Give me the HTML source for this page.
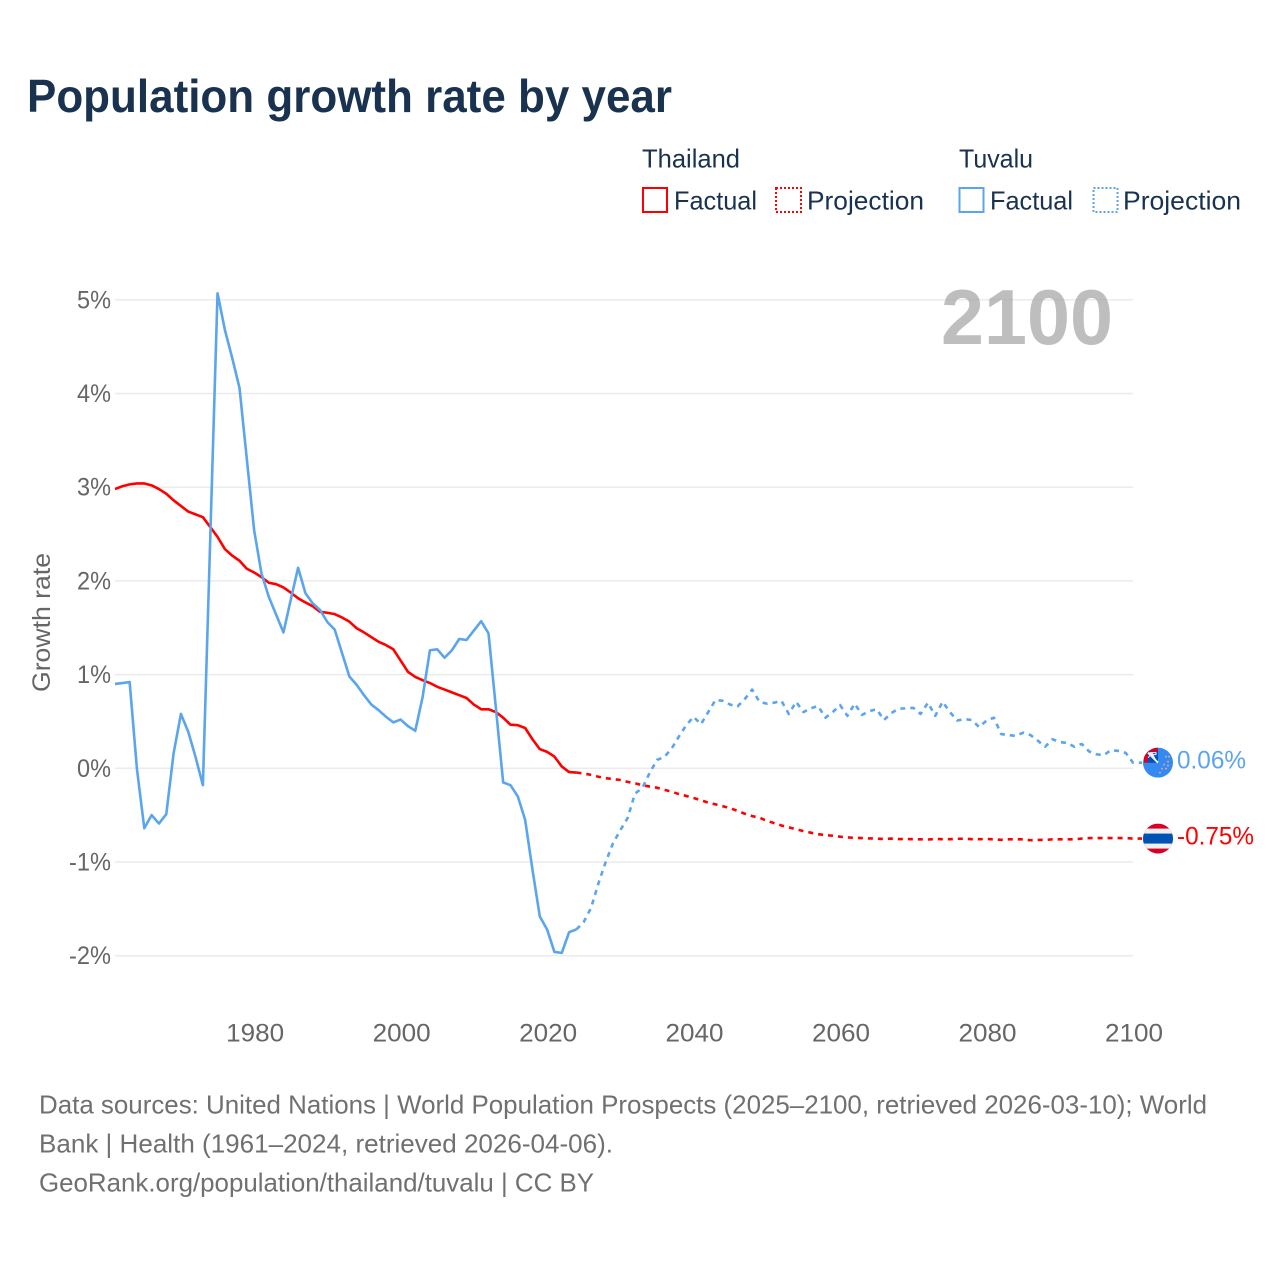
<!DOCTYPE html>
<html>
<head>
<meta charset="utf-8">
<title>Population growth rate by year</title>
<style>
html,body{margin:0;padding:0;background:#fff;width:1280px;height:1280px;overflow:hidden}
svg{display:block}
text{font-family:"Liberation Sans",sans-serif}
.legend{font-size:26px;fill:#18324f}
.foot{font-size:26px;fill:#707070}
.tick{font-size:25px;fill:#666}
</style>
</head>
<body>
<svg id="chart" width="1280" height="1280" viewBox="0 0 1280 1280" xmlns="http://www.w3.org/2000/svg">
  <text x="27" y="112" font-size="46" font-weight="bold" fill="#18324f" textLength="645" lengthAdjust="spacingAndGlyphs">Population growth rate by year</text>

  <g>
    <text class="legend" x="642" y="167.5" textLength="98" lengthAdjust="spacingAndGlyphs">Thailand</text>
    <rect x="643" y="188" width="24" height="24" fill="none" stroke="#ff0000" stroke-width="2"/>
    <text class="legend" x="674" y="209.5" textLength="83" lengthAdjust="spacingAndGlyphs">Factual</text>
    <rect x="776" y="188" width="25" height="24" fill="none" stroke="#ff0000" stroke-width="2" stroke-dasharray="2,2"/>
    <text class="legend" x="807" y="209.5" textLength="117" lengthAdjust="spacingAndGlyphs">Projection</text>
    <text class="legend" x="959" y="167.5" textLength="74" lengthAdjust="spacingAndGlyphs">Tuvalu</text>
    <rect x="959.5" y="188" width="24" height="24" fill="none" stroke="#5aa5ee" stroke-width="2"/>
    <text class="legend" x="990" y="209.5" textLength="83" lengthAdjust="spacingAndGlyphs">Factual</text>
    <rect x="1093.5" y="188" width="24" height="24" fill="none" stroke="#5aa5ee" stroke-width="2" stroke-dasharray="2,2"/>
    <text class="legend" x="1123" y="209.5" textLength="118" lengthAdjust="spacingAndGlyphs">Projection</text>
  </g>

  <g id="grid"></g>
  <g id="y-ticks"></g>
  <g id="x-ticks"></g>
  <text class="tick" x="0" y="0" transform="translate(50,692) rotate(-90)" textLength="139" lengthAdjust="spacingAndGlyphs">Growth rate</text>

  <text x="941" y="344" font-size="78" font-weight="bold" fill="#a8a8a8" fill-opacity="0.75" textLength="172" lengthAdjust="spacingAndGlyphs">2100</text>

  <g id="series"></g>

  <defs>
    <clipPath id="clip-tuvalu"><circle cx="1158" cy="0" r="15"/></clipPath>
    <clipPath id="clip-thailand"><circle cx="1158" cy="0" r="15"/></clipPath>
  </defs>
  <g id="flag-tuvalu">
    <g clip-path="url(#clip-tuvalu)">
      <rect x="1143" y="-15" width="30" height="30" fill="#338af3"/>
      <rect x="1144" y="-15" width="14" height="15" fill="#d80027"/>
      <rect x="1148" y="-11" width="10" height="11" fill="#0052b4"/>
      <path d="M1148 -10 L1158 0 M1151 -10 L1155 -3" stroke="#f0f0f0" stroke-width="2"/>
      <path d="M1148 -5 L1153 -10 M1150 -10 h6 v2 h-6z" stroke="#f0f0f0" stroke-width="1" fill="none"/>
      <g fill="#e0a090">
        <circle cx="1166" cy="-6" r="1"/><circle cx="1169" cy="-6" r="1"/>
        <circle cx="1168" cy="-1" r="1"/><circle cx="1164" cy="2" r="1"/>
        <circle cx="1168" cy="3" r="1"/><circle cx="1162" cy="6" r="1"/>
        <circle cx="1166" cy="6" r="1"/><circle cx="1160" cy="10" r="1"/>
      </g>
    </g>
  </g>
  <g id="flag-thailand">
    <g clip-path="url(#clip-thailand)">
      <rect x="1143" y="-15" width="30" height="30" fill="#d80027"/>
      <rect x="1143" y="-10" width="30" height="20" fill="#f0f0f0"/>
      <rect x="1143" y="-5" width="30" height="10" fill="#0052b4"/>
    </g>
  </g>
  <text id="label-tuvalu" x="1177" font-size="25" fill="#5aa5ee" textLength="69" lengthAdjust="spacingAndGlyphs"></text>
  <text id="label-thailand" x="1177" font-size="25" fill="#ff0000" textLength="77" lengthAdjust="spacingAndGlyphs"></text>

  <g>
    <text class="foot" x="39" y="1113.5" textLength="1168" lengthAdjust="spacingAndGlyphs">Data sources: United Nations | World Population Prospects (2025–2100, retrieved 2026-03-10); World</text>
    <text class="foot" x="39" y="1152.5" textLength="574" lengthAdjust="spacingAndGlyphs">Bank | Health (1961–2024, retrieved 2026-04-06).</text>
    <text class="foot" x="39" y="1191.5" textLength="555" lengthAdjust="spacingAndGlyphs">GeoRank.org/population/thailand/tuvalu | CC BY</text>
  </g>
</svg>
<script>
const years = [
  1961,1962,1963,1964,1965,1966,1967,1968,1969,1970,
  1971,1972,1973,1974,1975,1976,1977,1978,1979,1980,
  1981,1982,1983,1984,1985,1986,1987,1988,1989,1990,
  1991,1992,1993,1994,1995,1996,1997,1998,1999,2000,
  2001,2002,2003,2004,2005,2006,2007,2008,2009,2010,
  2011,2012,2013,2014,2015,2016,2017,2018,2019,2020,
  2021,2022,2023,2024,2025,2026,2027,2028,2029,2030,
  2031,2032,2033,2034,2035,2036,2037,2038,2039,2040,
  2041,2042,2043,2044,2045,2046,2047,2048,2049,2050,
  2051,2052,2053,2054,2055,2056,2057,2058,2059,2060,
  2061,2062,2063,2064,2065,2066,2067,2068,2069,2070,
  2071,2072,2073,2074,2075,2076,2077,2078,2079,2080,
  2081,2082,2083,2084,2085,2086,2087,2088,2089,2090,
  2091,2092,2093,2094,2095,2096,2097,2098,2099,2100
];
const thailandValues = [
  2.98,3.01,3.03,3.04,3.04,3.02,2.98,2.93,2.86,2.80,
  2.74,2.71,2.68,2.575,2.47,2.34,2.27,2.215,2.13,2.09,
  2.04,1.98,1.965,1.93,1.875,1.815,1.77,1.73,1.67,1.66,
  1.645,1.61,1.565,1.495,1.45,1.40,1.35,1.315,1.27,1.15,
  1.03,0.975,0.94,0.91,0.87,0.84,0.81,0.78,0.75,0.68,
  0.63,0.63,0.60,0.54,0.465,0.46,0.43,0.31,0.205,0.175,
  0.125,0.02,-0.04,-0.045,-0.055,-0.07,-0.09,-0.105,-0.115,-0.125,
  -0.145,-0.16,-0.18,-0.195,-0.207,-0.23,-0.25,-0.275,-0.295,-0.317,
  -0.34,-0.367,-0.385,-0.405,-0.425,-0.455,-0.485,-0.51,-0.527,-0.56,
  -0.585,-0.61,-0.63,-0.65,-0.67,-0.687,-0.703,-0.713,-0.72,-0.73,
  -0.738,-0.742,-0.745,-0.748,-0.75,-0.755,-0.75,-0.755,-0.755,-0.757,
  -0.758,-0.76,-0.755,-0.757,-0.757,-0.752,-0.752,-0.757,-0.757,-0.755,
  -0.758,-0.763,-0.758,-0.758,-0.758,-0.768,-0.765,-0.765,-0.758,-0.758,
  -0.758,-0.758,-0.75,-0.745,-0.745,-0.745,-0.745,-0.745,-0.745,-0.75
];
const tuvaluValues = [
  0.90,0.91,0.92,-0.01,-0.64,-0.50,-0.59,-0.49,0.16,0.58,
  0.39,0.12,-0.18,2.44,5.07,4.68,4.38,4.06,3.30,2.54,
  2.08,1.83,1.64,1.45,1.80,2.14,1.87,1.76,1.69,1.56,
  1.48,1.23,0.98,0.89,0.78,0.68,0.62,0.55,0.49,0.52,
  0.45,0.40,0.76,1.26,1.27,1.18,1.26,1.38,1.37,1.47,
  1.57,1.44,0.65,-0.15,-0.18,-0.30,-0.55,-1.08,-1.58,-1.72,
  -1.96,-1.97,-1.75,-1.72,-1.64,-1.49,-1.23,-1.00,-0.80,-0.66,
  -0.53,-0.27,-0.21,-0.05,0.09,0.12,0.21,0.34,0.46,0.55,
  0.47,0.60,0.73,0.72,0.68,0.66,0.74,0.84,0.71,0.69,
  0.70,0.72,0.58,0.71,0.60,0.64,0.665,0.54,0.60,0.675,
  0.56,0.69,0.57,0.61,0.63,0.515,0.59,0.636,0.64,0.645,
  0.58,0.70,0.56,0.71,0.60,0.51,0.525,0.515,0.44,0.51,
  0.54,0.365,0.355,0.345,0.38,0.355,0.295,0.23,0.31,0.28,
  0.27,0.23,0.26,0.18,0.15,0.14,0.195,0.185,0.165,0.06
];
const lastFactualYear = 2024;
const yTickValues = [5,4,3,2,1,0,-1,-2];
const xTickValues = [1980,2000,2020,2040,2060,2080,2100];
const thailandEndLabel = "-0.75%";
const tuvaluEndLabel = "0.06%";

const NS = "http://www.w3.org/2000/svg";
const X0 = 115, X1 = 1133, Y_ZERO = 768.3, Y_UNIT = 93.7, FLAG_X = 1158;
const xScale = function (year) { return X0 + (year - years[0]) * (X1 - X0) / (years[years.length - 1] - years[0]); };
const yScale = function (value) { return Y_ZERO - value * Y_UNIT; };

function make(tag, parent) {
  const el = document.createElementNS(NS, tag);
  parent.appendChild(el);
  return el;
}
function pathFrom(values, from, to) {
  const pts = [];
  years.forEach(function (yr, i) {
    if (yr >= from && yr <= to) pts.push(xScale(yr).toFixed(2) + "," + yScale(values[i]).toFixed(2));
  });
  return "M" + pts.join(" L");
}

const gridGroup = document.getElementById("grid");
const yTickGroup = document.getElementById("y-ticks");
const xTickGroup = document.getElementById("x-ticks");
const seriesGroup = document.getElementById("series");

yTickValues.forEach(function (v) {
  const line = make("line", gridGroup);
  
  
  line.setAttribute("x1", X0);
  line.setAttribute("x2", X1);
  line.setAttribute("y1", yScale(v));
  line.setAttribute("y2", yScale(v));
  line.setAttribute("stroke", "#ebebeb");
  line.setAttribute("stroke-width", "1.5");

  const label = make("text", yTickGroup);
  
  
  label.setAttribute("class", "tick");
  label.setAttribute("x", v < 0 ? 69 : 77);
  label.setAttribute("y", yScale(v) + 8.5);
  label.setAttribute("textLength", v < 0 ? 42 : 34);
  label.setAttribute("lengthAdjust", "spacingAndGlyphs");
  label.textContent = v + "%";
});

xTickValues.forEach(function (yr) {
  const label = make("text", xTickGroup);
  
  
  label.setAttribute("class", "tick");
  label.setAttribute("x", xScale(yr) - 28);
  label.setAttribute("y", 1041.5);
  label.setAttribute("textLength", 58);
  label.setAttribute("lengthAdjust", "spacingAndGlyphs");
  label.textContent = yr;
});

function drawSeries(values, color, key) {
  const factual = make("path", seriesGroup);
  
  
  factual.setAttribute("d", pathFrom(values, years[0], lastFactualYear));
  factual.setAttribute("fill", "none");
  factual.setAttribute("stroke", color);
  factual.setAttribute("stroke-width", "2.6");
  factual.setAttribute("stroke-linejoin", "round");

  const endY = yScale(values[values.length - 1]);
  const projection = make("path", seriesGroup);
  
  
  projection.setAttribute("d", pathFrom(values, lastFactualYear, years[years.length - 1]) + " L" + (FLAG_X - 16) + "," + endY.toFixed(2));
  projection.setAttribute("fill", "none");
  projection.setAttribute("stroke", color);
  projection.setAttribute("stroke-width", "2.6");
  projection.setAttribute("stroke-linejoin", "round");
  projection.setAttribute("stroke-dasharray", "5,5");

  document.getElementById("flag-" + key).setAttribute("transform", "translate(0," + endY + ")");
}
drawSeries(thailandValues, "#ff0000", "thailand");
drawSeries(tuvaluValues, "#5aa5ee", "tuvalu");

const labelTuvalu = document.getElementById("label-tuvalu");
labelTuvalu.textContent = tuvaluEndLabel;
labelTuvalu.setAttribute("y", yScale(tuvaluValues[tuvaluValues.length - 1]) + 6);
const labelThailand = document.getElementById("label-thailand");
labelThailand.textContent = thailandEndLabel;
labelThailand.setAttribute("y", yScale(thailandValues[thailandValues.length - 1]) + 6);
</script>
</body>
</html>
